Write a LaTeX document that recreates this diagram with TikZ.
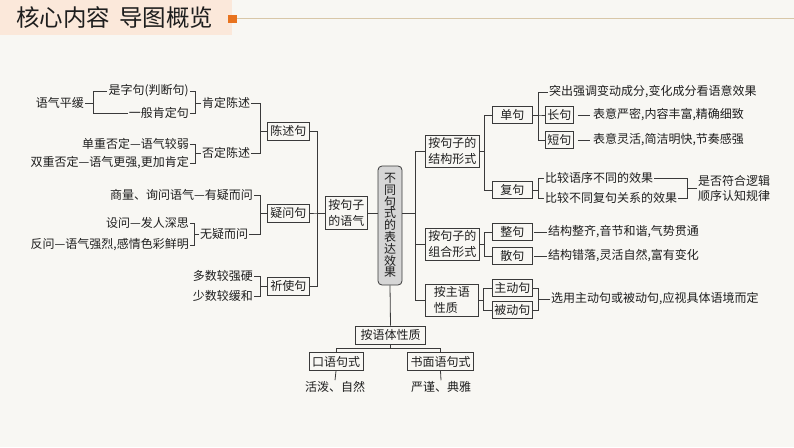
\documentclass[tikz,border=0pt]{standalone}
\usepackage{fontspec}
\setmainfont{Noto Sans CJK SC}
\usepackage{xcolor}
\usepackage{tikz}
\usetikzlibrary{calc,positioning}
\definecolor{paper}{HTML}{F8F7F3}
\definecolor{ink}{HTML}{1E1E1E}
\definecolor{wire}{HTML}{3A3A3A}
\definecolor{hubgray}{HTML}{D6D6D6}
\definecolor{peach}{HTML}{FBE8DA}
\definecolor{titleorange}{HTML}{E8731F}
\definecolor{tan}{HTML}{D8C7A8}
\newcommand\mapfs{\fontsize{12}{16}\selectfont}
\newcommand\hubfs{\fontsize{12}{11.8}\selectfont}
\newcommand\titlefs{\fontsize{23.5}{25}\selectfont}
\tikzset{
  cell/.style={draw=wire, line width=0.8pt, fill=paper, text=ink, font=\mapfs, inner xsep=3pt, inner ysep=1.5pt, minimum height=18pt},
  cellw/.style={cell, align=left, minimum width=53pt, minimum height=32pt},
  cellq/.style={cell, align=left, minimum height=33pt},
  note/.style={text=ink, font=\mapfs, inner sep=1pt},
  notel/.style={note, align=left, font=\fontsize{12}{15}\selectfont},
  link/.style={draw=wire, line width=0.8pt},
  hubbox/.style={draw=wire, line width=0.8pt, fill=hubgray, rounded corners=4pt, text=ink, font=\hubfs, align=center, inner sep=1pt, minimum width=24pt, minimum height=119pt},
}

\begin{document}
\begin{tikzpicture}[x=1pt,y=-1pt]
\useasboundingbox (0,0) rectangle (794,447);
\fill[paper] (0,0) rectangle (794,447);

% title bar
\fill[peach] (0,0) rectangle (232,35);
\draw[tan, line width=0.8pt] (232,18.5) -- (794,18.5);
\fill[titleorange] (228,15) rectangle (237,23);
\node[font=\titlefs, text=ink, anchor=west, inner sep=0pt] (title) at (16,18) {核心内容\hspace{9pt}导图概览};

% left: by mood
\node[note, anchor=east] (yqph) at (85,103) {语气平缓};
\node[note, anchor=east] (szj) at (190,91) {是字句(判断句)};
\node[note, anchor=east] (ybk) at (190,113) {一般肯定句};
\node[note, anchor=west] (kdcs) at (201,103) {肯定陈述};
\node[note, anchor=east] (dczd) at (190,144) {单重否定—语气较弱};
\node[note, anchor=east] (sczd) at (190,163) {双重否定—语气更强,更加肯定};
\node[note, anchor=west] (fdcs) at (201,153) {否定陈述};
\node[note, anchor=east] (yyxw) at (254,195) {商量、询问语气—有疑而问};
\node[note, anchor=east] (swfs) at (190,223) {设问—发人深思};
\node[note, anchor=east] (fwqs) at (190,245) {反问—语气强烈,感情色彩鲜明};
\node[note, anchor=west] (wywj) at (199,234) {无疑而问};
\node[note, anchor=east] (dsqy) at (254,276) {多数较强硬};
\node[note, anchor=east] (ssjh) at (254,296) {少数较缓和};

\node[cell, anchor=west] (csj) at (267,131) {陈述句};
\node[cell, anchor=west] (ywj) at (267,213) {疑问句};
\node[cell, anchor=west] (qsj) at (267,286) {祈使句};
\node[cellq, anchor=west] (ayq) at (325,213) {按句子\\的语气};

% centre
\node[hubbox] (hub) at (390,225.5) {不\\同\\句\\式\\的\\表\\达\\效\\果};

% right: by structure, combination, subject
\node[cellw, anchor=west] (jgxs) at (425,151) {按句子的\\结构形式};
\node[cellw, anchor=west] (zhxs) at (425,244) {按句子的\\组合形式};
\node[cellw, anchor=west] (zyxz) at (425,300) {按主语\\性质};

\node[cell, minimum width=40pt, minimum height=17pt, anchor=west] (danju) at (492,115) {单句};
\node[cell, minimum width=40pt, minimum height=17pt, anchor=west] (fuju) at (492,190) {复句};
\node[note, anchor=west] (tcqd) at (548,92) {突出强调变动成分,变化成分看语意效果};
\node[cell, minimum height=17pt, inner xsep=2pt, anchor=west] (changju) at (545,115) {长句};
\node[cell, minimum height=17pt, inner xsep=2pt, anchor=west] (duanju) at (545,140) {短句};
\node[note, anchor=west] (changjut) at (592,115) {表意严密,内容丰富,精确细致};
\node[note, anchor=west] (duanjut) at (592,140) {表意灵活,简洁明快,节奏感强};
\node[note, anchor=west] (bjyx) at (544,178) {比较语序不同的效果};
\node[note, anchor=west] (bjgx) at (544,198) {比较不同复句关系的效果};
\node[notel, anchor=west] (luoji) at (697,188) {是否符合逻辑\\顺序认知规律};

\node[cell, minimum width=40pt, minimum height=17pt, anchor=west] (zhengju) at (492,232) {整句};
\node[cell, minimum width=40pt, minimum height=17pt, anchor=west] (sanju) at (492,256) {散句};
\node[note, anchor=west] (zhengjut) at (547,232) {结构整齐,音节和谐,气势贯通};
\node[note, anchor=west] (sanjut) at (547,256) {结构错落,灵活自然,富有变化};

\node[cell, minimum width=40pt, minimum height=17pt, inner xsep=2pt, anchor=west] (zhudong) at (492,288) {主动句};
\node[cell, minimum width=40pt, minimum height=17pt, inner xsep=2pt, anchor=west] (beidong) at (492,310) {被动句};
\node[note, anchor=west] (xyzd) at (550,299) {选用主动句或被动句,应视具体语境而定};

% bottom: by register
\node[cell, inner xsep=5pt] (ytxz) at (390.5,335) {按语体性质};
\node[cell, inner xsep=3pt] (kyjs) at (336,361.5) {口语句式};
\node[cell, inner xsep=3pt] (smjs) at (440.5,361.5) {书面语句式};
\node[note] (hpzr) at (335,387) {活泼、自然};
\node[note] (yjdy) at (441,387) {严谨、典雅};

% connectors, left
\draw[link] (yqph.east) -- ++(8,0) |- (szj.west);
\draw[link] (yqph.east) ++(8,0) |- (ybk.west);
\foreach \c in {szj,ybk} \draw[link] (kdcs.west) -- ++(-6,0) |- (\c.east);
\foreach \c in {dczd,sczd} \draw[link] (fdcs.west) -- ++(-6,0) |- (\c.east);
\foreach \c in {swfs,fwqs} \draw[link] (wywj.west) -- ++(-5,0) |- (\c.east);
\foreach \c in {kdcs,fdcs} \draw[link] (csj.west) -- ++(-7,0) |- (\c.east);
\foreach \c in {yyxw,wywj} \draw[link] (ywj.west) -- ++(-7,0) |- (\c.east);
\foreach \c in {dsqy,ssjh} \draw[link] (qsj.west) -- ++(-7,0) |- (\c.east);
\foreach \c in {csj,ywj,qsj} \draw[link] (ayq.west) -- ++(-8,0) |- (\c.east);
\draw[link] (ayq.east) -- (ayq.east -| hub.west);

% connectors, right
\foreach \c in {jgxs,zhxs,zyxz} \draw[link] (\c.west) -- ++(-10,0) |- (hub.east |- ayq.east);
\foreach \c in {danju,fuju} \draw[link] (jgxs.east) -- ++(5,0) |- (\c.west);
\foreach \c in {tcqd,changju,duanju} \draw[link] (danju.east) -- ++(6,0) |- (\c.west);
\draw[link, shorten <=4pt, shorten >=2pt] (changju.east) -- (changjut.west);
\draw[link, shorten <=4pt, shorten >=2pt] (duanju.east) -- (duanjut.west);
\foreach \c in {bjyx,bjgx} \draw[link] (fuju.east) -- ++(6,0) |- (\c.west);
\foreach \c in {bjyx,bjgx} \draw[link] (luoji.west) -- ++(-10,0) |- (\c.east);
\foreach \c in {zhengju,sanju} \draw[link] (zhxs.east) -- ++(5,0) |- (\c.west);
\draw[link, shorten <=1pt] (zhengju.east) -- (zhengjut.west);
\draw[link, shorten <=1pt] (sanju.east) -- (sanjut.west);
\foreach \c in {zhudong,beidong} \draw[link] (zyxz.east) -- ++(5,0) |- (\c.west);
\foreach \c in {zhudong,beidong} \draw[link] (xyzd.west) -- ++(-12,0) |- (\c.east);

% connectors, bottom
\draw[link] (hub.south) -- (ytxz.north);
\foreach \c in {kyjs,smjs} \draw[link] (ytxz.south) -- ++(0,4) -| (\c.north);
\draw[link] (kyjs.south) -- (hpzr.north);
\draw[link] (smjs.south) -- (yjdy.north);
\end{tikzpicture}
\end{document}
